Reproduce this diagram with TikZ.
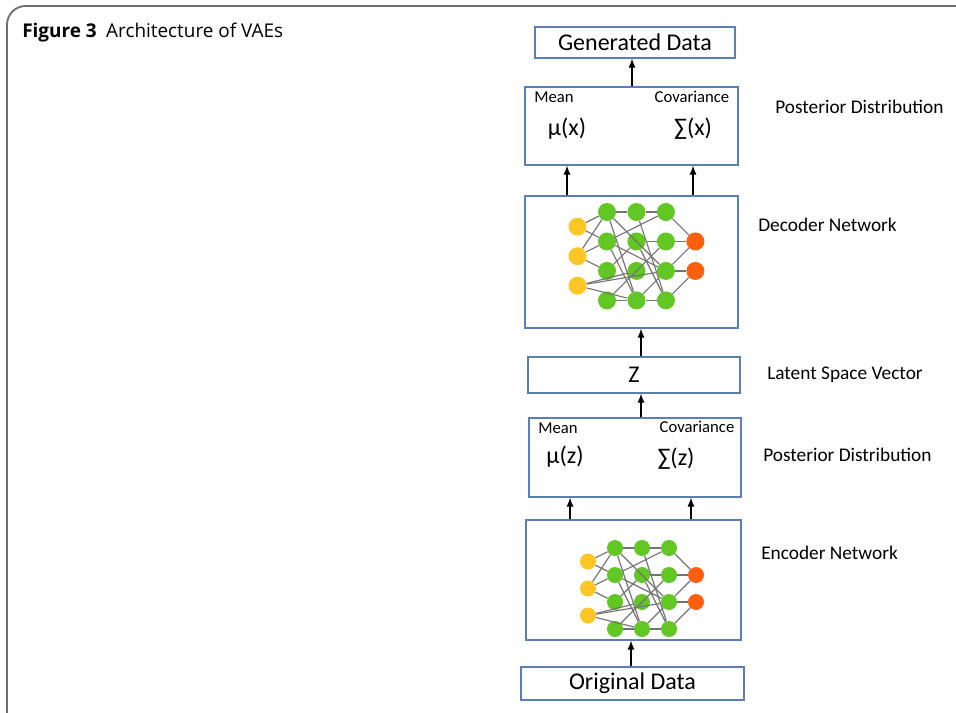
\documentclass[tikz,border=0pt]{standalone}
\usepackage{fontspec}
\setmainfont{Carlito}
\newfontfamily\capfont{Open Sans}
\usetikzlibrary{shapes,arrows,positioning}
\definecolor{boxblue}{HTML}{5B7DB8}
\definecolor{nyellow}{HTML}{FFC626}
\definecolor{ngreen}{HTML}{62C623}
\definecolor{norange}{HTML}{FF6010}
\definecolor{framegray}{HTML}{707070}
\tikzstyle{box} = [rectangle, draw=boxblue, line width=0.9pt, inner sep=0pt]
\tikzstyle{ynode} = [circle, fill=nyellow, inner sep=0pt]
\tikzstyle{gnode} = [circle, fill=ngreen, inner sep=0pt]
\tikzstyle{onode} = [circle, fill=norange, inner sep=0pt]
\tikzstyle{edge} = [draw, black!55, line width=0.85pt]
\tikzstyle{arr} = [draw, -latex, line width=1.3pt]
\tikzstyle{side} = [anchor=west, inner sep=0pt, font=\fontsize{14.5}{16}\selectfont]
\tikzstyle{small} = [inner sep=0pt, font=\fontsize{12.5}{14}\selectfont]
\tikzstyle{big} = [inner sep=0pt, font=\fontsize{18}{20}\selectfont]

% small feed-forward net: #1 prefix, #2 top-left green node, #3 spacing, #4 node size
\newcommand{\vaenet}[4]{%
  \begin{scope}[shift={#2}, x=#3, y=-#3]
    \foreach \i/\r in {1/0.5,2/1.5,3/2.5}
      \node [ynode, minimum size=#4] (#1y\i) at (-1,\r) {};
    \foreach \c/\cx in {a/0,b/1,c/2}
      \foreach \r in {1,...,4}
        \node [gnode, minimum size=#4] (#1\c\r) at (\cx,\r-1) {};
    \node [onode, minimum size=#4] (#1o1) at (3,1) {};
    \node [onode, minimum size=#4] (#1o2) at (3,2) {};
    \foreach \p/\q in {y1/a1, y1/a2, y2/a1, y2/a2, y2/a3, y3/b3, y3/b4, y3/c3,
                       a1/b1, a1/b4, a1/c3, a2/c1, a2/b4, a2/c3, a3/b2, a4/b4, a4/c2,
                       b1/c1, b1/c4, b2/c2, b2/c4, b4/c3, b4/c4,
                       c1/o1, c2/o1, c3/o1, c3/o2, c4/o2}
      \path [edge] (#1\p) -- (#1\q);
  \end{scope}}

\begin{document}
\begin{tikzpicture}[x=0.75pt, y=-0.75pt]
  \useasboundingbox (0,0) rectangle (956,713);

  % frame and caption
  \draw [framegray, line width=1.4pt, rounded corners=14pt] (7,713) -- (7,6) -- (956,6);
  \node [anchor=base west, inner sep=0pt, font=\capfont\fontsize{14.2}{16}\selectfont] (cap) at (22,38)
    {\textbf{Figure 3}\hspace{0.5em}Architecture of VAEs};

  % boxes
  \node [box, big, minimum width=150pt, minimum height=23.25pt] (gen) at (635,42.5) {Generated Data};
  \node [box, minimum width=159.75pt, minimum height=58.5pt] (postx) at (631.5,126) {};
  \node [box, minimum width=159.75pt, minimum height=99pt] (dec) at (631.5,262) {};
  \node [box, big, minimum width=159pt, minimum height=27pt] (z) at (634,375) {Z};
  \node [box, minimum width=159pt, minimum height=59.25pt] (posz) at (635,457.5) {};
  \node [box, minimum width=161.25pt, minimum height=90pt] (enc) at (633.5,580) {};
  \node [box, big, minimum width=167.25pt, minimum height=24.75pt] (orig) at (632.5,683.5) {Original Data};

  % posterior contents
  \node [small] (meanx) at (554,97) {Mean};
  \node [small] (covx) at (692,97) {Covariance};
  \node [big] (mux) at (567,129) {μ(x)};
  \node [big] (sigx) at (693,129) {∑(x)};
  \node [small] (meanz) at (558,428) {Mean};
  \node [small] (covz) at (697,427) {Covariance};
  \node [big] (muz) at (565,457) {μ(z)};
  \node [big] (sigz) at (676,459) {∑(z)};

  % networks
  \vaenet{d}{(607,212)}{22.1pt}{13.5pt}
  \vaenet{e}{(615,548)}{20.25pt}{12pt}

  % side labels
  \node [side] (lpx) at (775,107) {Posterior Distribution};
  \node [side] (ldec) at (758,225) {Decoder Network};
  \node [side] (lz) at (767,375) {Latent Space Vector};
  \node [side] (lpz) at (763,455) {Posterior Distribution};
  \node [side] (lenc) at (761,553) {Encoder Network};

  % arrows
  \path [arr] ([xshift=0.375pt]postx.north) -- ([xshift=0.375pt]postx.north |- gen.south);
  \path [arr] (dec.north -| mux) -- (postx.south -| mux);
  \path [arr] (dec.north -| sigx) -- (postx.south -| sigx);
  \path [arr] ([xshift=5.25pt]z.north) -- ([xshift=5.25pt]z.north |- dec.south);
  \path [arr] ([xshift=4.5pt]posz.north) -- ([xshift=4.5pt]posz.north |- z.south);
  \path [arr] ([xshift=-47.6pt]enc.north) -- ([xshift=-47.6pt]enc.north |- posz.south);
  \path [arr] ([xshift=43.1pt]enc.north) -- ([xshift=43.1pt]enc.north |- posz.south);
  \path [arr] ([xshift=-1.125pt]orig.north) -- ([xshift=-1.125pt]orig.north |- enc.south);
\end{tikzpicture}
\end{document}
